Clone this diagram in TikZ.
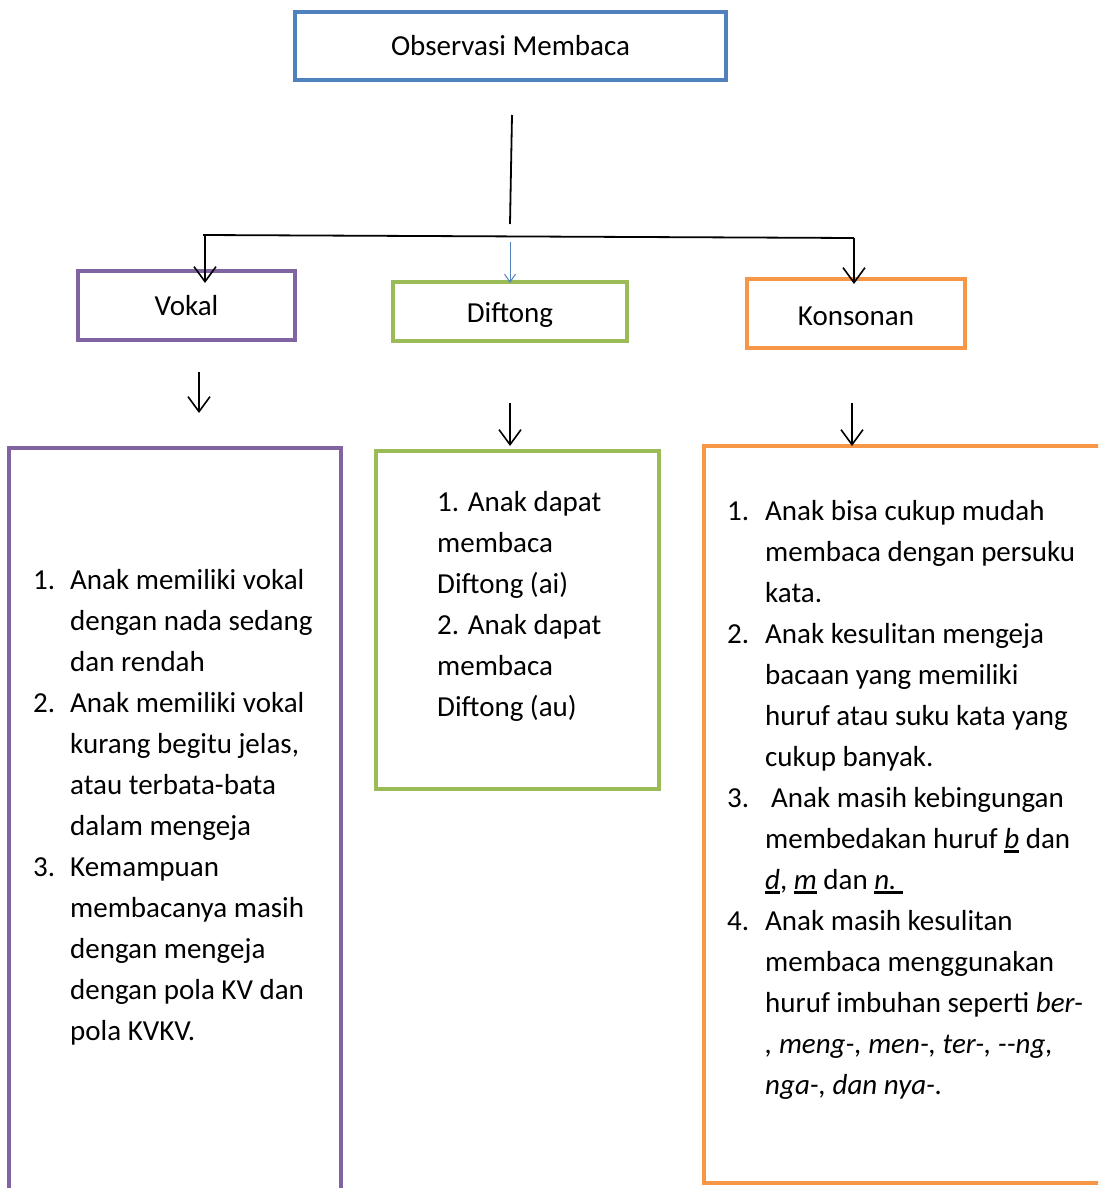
\documentclass[tikz,border=0pt]{standalone}
\usepackage{fontspec}
\setmainfont{Carlito}
\usetikzlibrary{arrows.meta}
\definecolor{cblue}{HTML}{4F81BD}
\definecolor{cpurple}{HTML}{8064A2}
\definecolor{cgreen}{HTML}{9BBB59}
\definecolor{corange}{HTML}{F79646}
\newcommand{\numA}[1]{\makebox[37pt][l]{#1}}
\newcommand{\indA}{\hspace*{37pt}}
\newcommand{\numB}[1]{\makebox[38pt][l]{#1}}
\newcommand{\indB}{\hspace*{38pt}}
\newcommand{\ul}[1]{\setbox0\hbox{#1}\rlap{\rule[-4.5pt]{\wd0}{2.2pt}}\box0\relax}
\begin{document}
\begin{tikzpicture}[x=1pt,y=-1pt,
  box/.style={draw, line width=4.5pt, inner sep=0pt, font=\fontsize{29}{35}\selectfont},
  bigbox/.style={line width=4.5pt},
  conn/.style={line width=1.6pt, -{Straight Barb[length=15pt,width=22pt,line width=1.6pt]}},
  line/.style={line width=1.8pt},
  listtext/.style={anchor=base west, align=left, inner sep=0pt, font=\fontsize{29}{41}\selectfont}]
\useasboundingbox (0,0) rectangle (1098,1188);
\clip (0,0) rectangle (1098,1188);

% top-level boxes
\node[box, draw=cblue, minimum width=431pt, minimum height=68pt] (title) at (510.5,46) {Observasi Membaca};
\node[box, draw=cpurple, minimum width=217pt, minimum height=69pt] (vokal) at (186.5,305.5) {Vokal};
\node[box, draw=cgreen, minimum width=234pt, minimum height=59pt, text height=26pt, text depth=4pt] (diftong) at (510,311.5) {Diftong};
\node[box, draw=corange, minimum width=218pt, minimum height=69pt, text height=24pt, text depth=0pt] (konsonan) at (856,313.5) {Konsonan};

% big boxes
\draw[bigbox, draw=cpurple] (9,1210) -- (9,448) -- (341,448) -- (341,1210);
\draw[bigbox, draw=cgreen] (376,451) rectangle (659,789);
\draw[bigbox, draw=corange] (1110,446) -- (704,446) -- (704,1183) -- (1110,1183);

% coordinates of connectors
\coordinate (trunkTop) at (512,115);
\coordinate (trunkBot) at (510,224);
\coordinate (barL) at (203,235);
\coordinate (barR) at (854,238);
\coordinate (vTop) at (205,235);
\coordinate (vTip) at (205,283);
\coordinate (dTop) at (510,242);
\coordinate (dTip) at (510,283);
\coordinate (kTip) at (854,284);
\coordinate (v2Top) at (199,372);
\coordinate (v2Tip) at (199,413);
\coordinate (d2Top) at (510,403);
\coordinate (d2Tip) at (510,446);
\coordinate (k2Top) at (852,403);
\coordinate (k2Tip) at (852,446);

\draw[line] (trunkTop) -- (trunkBot);
\draw[line] (barL) -- (barR);
\draw[conn] (vTop) -- (vTip);
\draw[line width=1pt, draw=cblue, -{Straight Barb[length=8pt,width=11pt,line width=1pt]}] (dTop) -- (dTip);
\draw[conn] (barR) -- (kTip);
\draw[conn] (v2Top) -- (v2Tip);
\draw[conn] (d2Top) -- (d2Tip);
\draw[conn] (k2Top) -- (k2Tip);

% list texts (base anchor = baseline of last line)
\node[listtext] (vlist) at (33,1040) {%
\numA{1.}Anak memiliki vokal\\
\indA dengan nada sedang\\
\indA dan rendah\\
\numA{2.}Anak memiliki vokal\\
\indA kurang begitu jelas,\\
\indA atau terbata-bata\\
\indA dalam mengeja\\
\numA{3.}Kemampuan\\
\indA membacanya masih\\
\indA dengan mengeja\\
\indA dengan pola KV dan\\
\indA pola KVKV.};

\node[listtext] (dlist) at (437,716) {%
1. Anak dapat\\
membaca\\
Diftong (ai)\\
2. Anak dapat\\
membaca\\
Diftong (au)};

\node[listtext] (klist) at (727,1094) {%
\numB{1.}Anak bisa cukup mudah\\
\indB membaca dengan persuku\\
\indB kata.\\
\numB{2.}Anak kesulitan mengeja\\
\indB bacaan yang memiliki\\
\indB huruf atau suku kata yang\\
\indB cukup banyak.\\
\numB{3.}\hspace*{6pt}Anak masih kebingungan\\
\indB membedakan huruf \ul{\textit{b}} dan\\
\indB \ul{\textit{d}}, \ul{\textit{m}} dan \ul{\textit{n.}\ }\\
\numB{4.}Anak masih kesulitan\\
\indB membaca menggunakan\\
\indB huruf imbuhan seperti \textit{ber-}\\
\indB \textit{, meng-, men-, ter-, -{}-ng,}\\
\indB \textit{nga-, dan nya-.}};
\end{tikzpicture}
\end{document}
